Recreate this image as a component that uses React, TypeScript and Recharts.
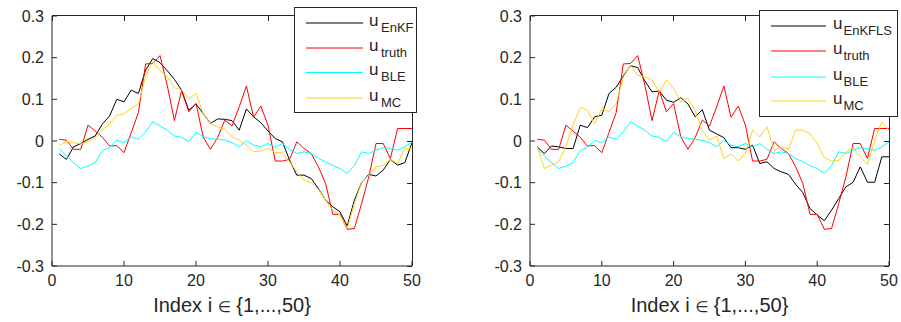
import React from "react"
import { LineChart, Line, XAxis, YAxis } from "recharts"

// x positions 1..50
const index = Array.from({ length: 50 }, (_, k) => k + 1)

const truth = [
  0.004, 0.002, -0.02, -0.02, 0.038, 0.024, 0.009, -0.012, -0.011, -0.028,
  0.02, 0.068, 0.185, 0.186, 0.205, 0.134, 0.049, 0.121, 0.07, 0.09,
  0.01, -0.02, 0.008, 0.05, 0.036, 0.082, 0.132, 0.057, 0.084, 0.038,
  -0.048, -0.048, -0.044, -0.002, -0.018, -0.03, -0.062, -0.102, -0.176, -0.176,
  -0.212, -0.21, -0.15, -0.086, -0.006, -0.006, -0.042, 0.03, 0.03, 0.03,
]

const ble = [
  -0.018, -0.036, -0.052, -0.066, -0.06, -0.052, -0.023, -0.015, 0.002, -0.004,
  0.01, 0.004, 0.022, 0.046, 0.036, 0.026, 0.012, 0.009, -0.002, 0.021,
  0.01, 0.006, 0.004, 0.002, -0.004, -0.014, 0.001, -0.01, -0.014, -0.006,
  -0.015, -0.006, -0.02, -0.03, -0.026, -0.03, -0.042, -0.05, -0.059, -0.066,
  -0.078, -0.059, -0.026, -0.03, -0.022, -0.016, -0.018, -0.022, -0.014, -0.002,
]

const enkf = [
  -0.031, -0.044, -0.014, -0.006, 0.004, 0.012, 0.041, 0.06, 0.1, 0.094,
  0.122, 0.114, 0.17, 0.198, 0.188, 0.169, 0.148, 0.122, 0.074, 0.089,
  0.066, 0.042, 0.053, 0.052, 0.049, 0.026, 0.077, 0.058, 0.044, 0.024,
  0.006, -0.002, -0.046, -0.082, -0.082, -0.09, -0.114, -0.142, -0.158, -0.17,
  -0.204, -0.142, -0.1, -0.08, -0.084, -0.07, -0.044, -0.058, -0.052, -0.004,
]

const mcLeft = [
  -0.011, -0.001, -0.004, -0.007, -0.001, 0.009, 0.026, 0.042, 0.061, 0.065,
  0.078, 0.089, 0.154, 0.19, 0.169, 0.154, 0.128, 0.122, 0.102, 0.114,
  0.066, 0.041, 0.034, 0.028, 0.01, 0.002, -0.01, -0.026, -0.024, -0.018,
  -0.028, -0.028, -0.05, -0.074, -0.094, -0.1, -0.116, -0.142, -0.167, -0.178,
  -0.21, -0.15, -0.1, -0.082, -0.062, -0.058, -0.044, -0.054, -0.018, -0.018,
]

const enkfls = [
  -0.014, -0.03, -0.012, -0.014, -0.018, -0.018, 0.038, 0.032, 0.058, 0.062,
  0.114, 0.129, 0.156, 0.181, 0.176, 0.144, 0.118, 0.12, 0.098, 0.093,
  0.104, 0.089, 0.058, 0.075, 0.026, 0.017, 0.008, -0.016, -0.016, -0.02,
  -0.01, -0.054, -0.05, -0.066, -0.074, -0.08, -0.104, -0.124, -0.162, -0.178,
  -0.191, -0.166, -0.138, -0.11, -0.099, -0.062, -0.099, -0.099, -0.038, -0.038,
]

const mcRight = [
  -0.014, -0.066, -0.058, -0.05, -0.014, 0.038, 0.081, 0.074, 0.041, 0.078,
  0.07, 0.09, 0.153, 0.182, 0.158, 0.154, 0.146, 0.118, 0.146, 0.126,
  0.094, 0.102, 0.074, 0.024, 0.002, 0.012, -0.042, -0.031, -0.048, -0.03,
  0.026, 0.01, 0.034, -0.022, -0.014, -0.02, 0.026, 0.026, 0.017, -0.006,
  -0.04, -0.048, -0.047, -0.026, -0.015, -0.038, -0.056, 0.002, 0.046, 0.026,
]

const xTicks = [0, 10, 20, 30, 40, 50]
const yTicks = [-0.3, -0.2, -0.1, 0, 0.1, 0.2, 0.3]

const FONT = '"Liberation Sans", Arial, Helvetica, sans-serif'
const AXIS = "#262626"
const TICK = 5
const H = 322
const PLOT_TOP = 16
const XAXIS_H = 56
const YAXIS_W = 44

const fmtY = (v: number) => (v === 0 ? "0" : v.toFixed(1))

type Series = { key: string; sub: string; color: string; values: number[] }

function AxisTitle(props: any) {
  const vb = props.viewBox || { x: 0, y: 0, width: 0, height: 0 }
  return (
    <text x={vb.x + vb.width / 2} y={vb.y + vb.height - 10} textAnchor="middle" fontSize={20} fontFamily={FONT} fill={AXIS}>
      Index i <tspan fontSize={15} fontFamily='"DejaVu Sans"'>{"\u2208"}</tspan> {"{1,...,50}"}
    </text>
  )
}

// top and right edges of the axes box (plain CSS borders), with inward ticks
function BoxEdges({ x, y, w, h }: { x: number; y: number; w: number; h: number }) {
  const [x0, x1] = [xTicks[0], xTicks[xTicks.length - 1]]
  const [y0, y1] = [yTicks[0], yTicks[yTicks.length - 1]]
  return (
    <div style={{ position: "absolute", left: x, top: y, width: w, height: h, zIndex: 2, pointerEvents: "none",
      borderTop: `1px solid ${AXIS}`, borderRight: `1px solid ${AXIS}`, boxSizing: "content-box", marginTop: -1 }}>
      {xTicks.map(t => (
        <div key={"t" + t} style={{ position: "absolute", left: ((t - x0) / (x1 - x0)) * w - 0.5, top: 0,
          width: 1, height: TICK, background: AXIS }} />
      ))}
      {yTicks.map(t => (
        <div key={"r" + t} style={{ position: "absolute", left: w - TICK, top: h - ((t - y0) / (y1 - y0)) * h,
          width: TICK, height: 1, background: AXIS }} />
      ))}
    </div>
  )
}

function Panel({ series, left, width, mLeft, mRight, legend }: {
  series: Series[]
  left: number
  width: number
  mLeft: number
  mRight: number
  legend: { x: number; y: number; w: number; h: number; lineX1: number; lineX2: number; textX: number; subX: number; rows: number[] }
}) {
  const data = index.map((i, k) => {
    const row: Record<string, number> = { i }
    series.forEach(s => { row[s.key] = s.values[k] })
    return row
  })
  const tick = { fontSize: 16, fill: AXIS, fontFamily: FONT }
  const plotX = mLeft + YAXIS_W
  const plotW = width - plotX - mRight
  const plotH = H - PLOT_TOP - XAXIS_H
  return (
    <div style={{ position: "absolute", left, top: 0, width, height: H }}>
      <LineChart width={width} height={H} data={data} margin={{ top: PLOT_TOP, right: mRight, bottom: 0, left: mLeft }}>
        <XAxis dataKey="i" type="number" domain={[0, 50]} ticks={xTicks} stroke={AXIS} tick={tick}
          tickSize={-TICK} tickMargin={14} height={XAXIS_H} allowDataOverflow
          label={{ position: "insideBottom", content: AxisTitle }} />
        <YAxis type="number" domain={[-0.3, 0.3]} ticks={yTicks} stroke={AXIS} tick={tick} tickFormatter={fmtY}
          tickSize={-TICK} tickMargin={13} width={YAXIS_W} allowDataOverflow interval={0} />
        {series.map(s => (
          <Line key={s.key} dataKey={s.key} stroke={s.color} strokeWidth={1} dot={false} activeDot={false}
            type="linear" isAnimationActive={false} />
        ))}
      </LineChart>
      <BoxEdges x={plotX} y={PLOT_TOP} w={plotW} h={plotH} />
      <div style={{ position: "absolute", left: legend.x - left, top: legend.y, width: legend.w, height: legend.h, zIndex: 3,
        border: `1px solid ${AXIS}`, background: "#fff", boxSizing: "border-box" }}>
        <svg width={legend.w} height={legend.h} style={{ position: "absolute", left: -1, top: -1 }}>
          {series.map((s, k) => (
            <g key={s.key}>
              <line x1={legend.lineX1} x2={legend.lineX2} y1={legend.rows[k]} y2={legend.rows[k]} stroke={s.color} strokeWidth={1} />
              <text x={legend.textX} y={legend.rows[k] + 2.5} fontSize={17} fontFamily={FONT} fill={AXIS}>u</text>
              <text x={legend.subX} y={legend.rows[k] + 8.7} fontSize={13} fontFamily={FONT} fill={AXIS}>{s.sub}</text>
            </g>
          ))}
        </svg>
      </div>
    </div>
  )
}

export default function App() {
  const leftSeries: Series[] = [
    { key: "enkf", sub: "EnKF", color: "#000000", values: enkf },
    { key: "truth", sub: "truth", color: "#ff0000", values: truth },
    { key: "ble", sub: "BLE", color: "#00ffff", values: ble },
    { key: "mc", sub: "MC", color: "#ffd21a", values: mcLeft },
  ]
  const rightSeries: Series[] = [
    { key: "enkfls", sub: "EnKFLS", color: "#000000", values: enkfls },
    { key: "truth", sub: "truth", color: "#ff0000", values: truth },
    { key: "ble", sub: "BLE", color: "#00ffff", values: ble },
    { key: "mc", sub: "MC", color: "#ffd21a", values: mcRight },
  ]
  return (
    <div style={{ position: "absolute", left: 0, top: 0, width: 901, height: H, background: "#fff", overflow: "hidden" }}>
      <Panel series={leftSeries} left={0} width={450} mLeft={8} mRight={38}
        legend={{ x: 294, y: 7, w: 123, h: 106, lineX1: 12, lineX2: 69, textX: 75, subX: 87, rows: [16, 41, 65.5, 91] }} />
      <Panel series={rightSeries} left={450} width={451} mLeft={36} mRight={12}
        legend={{ x: 759, y: 10, w: 139, h: 107, lineX1: 12, lineX2: 67, textX: 74, subX: 84.5, rows: [16, 41, 67, 91] }} />
    </div>
  )
}
